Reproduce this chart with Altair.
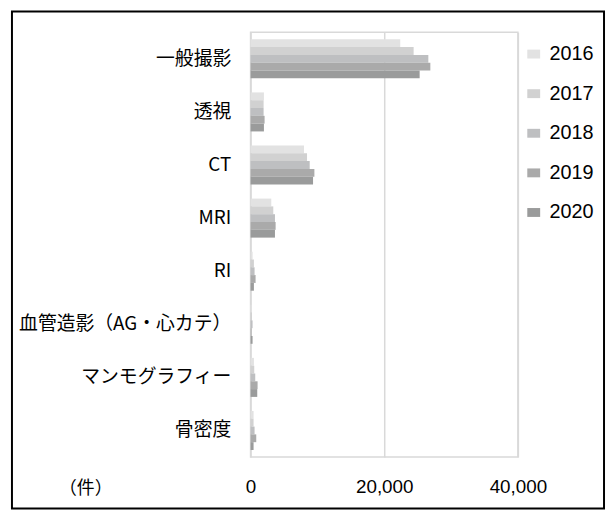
import altair as alt
import pandas as pd

categories = ["一般撮影", "透視", "CT", "MRI", "RI", "血管造影（AG・心カテ）", "マンモグラフィー", "骨密度"]
years = ["2016", "2017", "2018", "2019", "2020"]
v2016 = [22400, 2000, 8000, 3100, 300, 150, 500, 450]
v2017 = [24400, 1950, 8450, 3400, 500, 200, 550, 450]
v2018 = [26600, 1950, 8850, 3650, 600, 300, 700, 600]
v2019 = [26900, 2100, 9550, 3750, 750, 150, 1050, 850]
v2020 = [25300, 2000, 9350, 3650, 500, 300, 1000, 450]
colors = ["#e2e2e2", "#d1d1d1", "#bebfc1", "#aaaaaa", "#9a9b9b"]

rows = []
for yr, vals in zip(years, [v2016, v2017, v2018, v2019, v2020]):
    for c, v in zip(categories, vals):
        rows.append({"category": c, "year": yr, "value": v})
df = pd.DataFrame(rows)

JP = "Noto Sans CJK JP"
NUM = "Liberation Sans"

bars = alt.Chart(df).mark_bar().encode(
    x=alt.X("value:Q",
            scale=alt.Scale(domain=[0, 40000], nice=False),
            axis=alt.Axis(values=[0, 20000, 40000], format=",.0f", ticks=False, domain=False,
                          grid=True, gridColor="#d9d9d9", gridWidth=1.5,
                          labelFont=NUM, labelFontSize=19, labelColor="#000000",
                          labelPadding=21, labelFlush=False,
                          title="（件）", titleX=-167, titleY=32, titleBaseline="middle",
                          titleAlign="center", titleFont=JP, titleFontSize=18,
                          titleFontWeight="normal", titleColor="#000000")),
    y=alt.Y("category:N", sort=categories,
            scale=alt.Scale(paddingInner=0.265, paddingOuter=0.1325),
            axis=alt.Axis(title=None, ticks=False, domain=False, labelFont=JP,
                          labelFontSize=19, labelColor="#000000", labelPadding=20,
                          labelLimit=400)),
    yOffset=alt.YOffset("year:N", sort=years),
    color=alt.Color("year:N", sort=years,
                    scale=alt.Scale(domain=years, range=colors),
                    legend=alt.Legend(title=None, orient="none", legendX=276, legendY=12,
                                      padding=0, rowPadding=20,
                                      symbolType="M-1,-0.69L1,-0.69L1,0.69L-1,0.69Z",
                                      symbolSize=169, symbolStrokeWidth=0,
                                      labelFont=NUM, labelFontSize=20, labelColor="#000000",
                                      labelOffset=6)),
)

frame = alt.Chart(pd.DataFrame({"k": [0]})).mark_rect(
    fill=None, stroke="#000000", strokeWidth=2
).encode(
    x=alt.value(-241), x2=alt.value(357), y=alt.value(-21), y2=alt.value(481)
)

chart = alt.layer(bars, frame).properties(
    width=270, height=429,
    autosize=alt.AutoSizeParams(type="none"),
    padding={"left": 245, "top": 22, "right": 89, "bottom": 53},
).configure_view(stroke="#d9d9d9", strokeWidth=1.5)

chart.save("out.html", embed_options={"renderer": "svg", "actions": False})
